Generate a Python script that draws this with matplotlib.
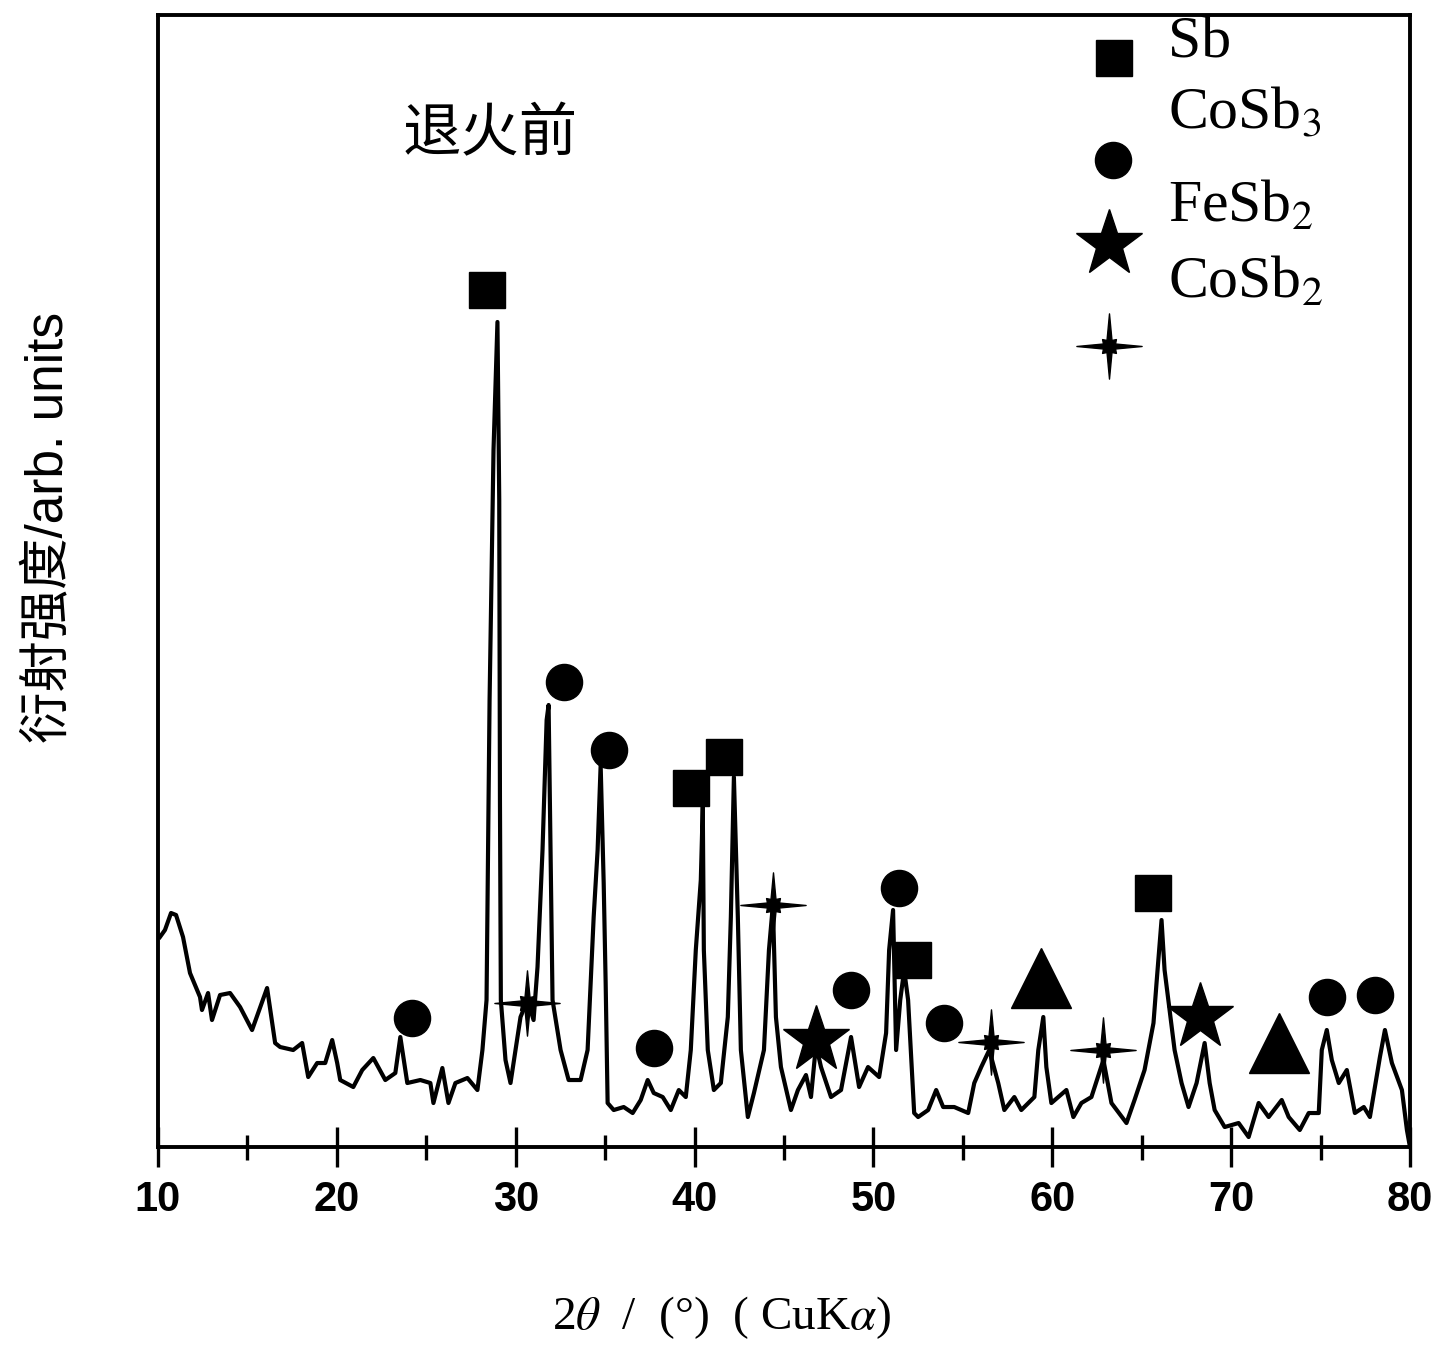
import numpy as np
import matplotlib
matplotlib.use("Agg")
import matplotlib.pyplot as plt
from matplotlib.path import Path
from matplotlib.ticker import MultipleLocator

plt.rcParams['mathtext.fontset'] = 'stix'

# XRD pattern before annealing: 2theta (deg) and intensity (arb. units)
two_theta = [10.11, 10.39, 10.73, 11.01, 11.40, 11.79, 12.35, 12.46, 12.80, 13.02,
             13.47, 14.03, 14.59, 15.26, 16.10, 16.55, 16.83, 17.56, 18.06, 18.40,
             18.90, 19.35, 19.74, 20.02, 20.19, 20.92, 21.42, 22.04, 22.71, 23.27,
             23.55, 23.94, 24.67, 25.23, 25.40, 25.90, 26.24, 26.63, 27.30, 27.86,
             28.14, 28.37, 28.54, 28.76, 28.98, 29.08, 29.12, 29.17, 29.43, 29.71,
             30.27, 30.66, 31.00, 31.22, 31.50, 31.73, 31.84, 31.95, 32.06, 32.51,
             32.96, 33.63, 34.02, 34.36, 34.58, 34.75, 34.92, 35.03, 35.14, 35.48,
             36.04, 36.54, 36.99, 37.38, 37.72, 38.22, 38.67, 39.12, 39.51, 39.79,
             40.07, 40.35, 40.46, 40.52, 40.74, 41.08, 41.47, 41.86, 42.03, 42.20,
             42.42, 42.59, 42.98, 43.32, 43.88, 44.16, 44.38, 44.55, 44.83, 45.39,
             45.78, 46.23, 46.51, 46.79, 47.07, 47.63, 48.19, 48.75, 49.20, 49.70,
             50.32, 50.71, 50.88, 51.10, 51.27, 51.50, 51.72, 51.94, 52.28, 52.50,
             53.06, 53.51, 53.90, 54.52, 55.30, 55.64, 56.03, 56.48, 56.98, 57.32,
             57.88, 58.27, 58.66, 59.00, 59.22, 59.50, 59.67, 59.95, 60.34, 60.79,
             61.18, 61.63, 62.19, 62.86, 63.31, 64.15, 64.60, 65.16, 65.66, 65.83,
             66.11, 66.28, 66.56, 66.84, 67.23, 67.62, 68.07, 68.52, 68.80, 69.08,
             69.64, 70.42, 70.98, 71.54, 72.10, 72.83, 73.22, 73.84, 74.34, 74.90,
             75.07, 75.35, 75.63, 76.02, 76.47, 76.92, 77.42, 77.76, 78.32, 78.60,
             78.99, 79.55, 79.83, 80.00]
intensity = [210, 217, 234, 232, 210, 174, 150, 137, 154, 127,
             152, 154, 140, 117, 159, 104, 100, 97, 104, 70,
             84, 84, 107, 84, 67, 60, 77, 89, 67, 74,
             110, 64, 67, 64, 44, 79, 44, 64, 69, 57,
             97, 147, 447, 697, 825, 647, 347, 147, 87, 64,
             130, 147, 127, 180, 297, 427, 442, 297, 147, 97,
             67, 67, 97, 230, 297, 382, 264, 164, 44, 37,
             40, 34, 47, 67, 54, 50, 37, 57, 50, 97,
             197, 267, 340, 197, 97, 57, 64, 130, 230, 370,
             230, 97, 30, 54, 97, 197, 242, 130, 80, 37,
             57, 72, 50, 102, 80, 50, 57, 110, 60, 80,
             70, 114, 197, 237, 97, 147, 177, 147, 34, 30,
             37, 57, 40, 40, 34, 64, 80, 97, 64, 37,
             50, 37, 44, 50, 97, 130, 80, 44, 50, 57,
             30, 44, 50, 87, 44, 24, 47, 77, 124, 164,
             227, 177, 137, 97, 64, 40, 64, 104, 64, 37,
             20, 24, 10, 44, 30, 47, 30, 17, 34, 34,
             97, 117, 87, 64, 77, 34, 40, 30, 90, 117,
             84, 57, 17, 0]

# phase identification marks
sb_pos = [28.37, 39.79, 41.64, 52.22, 65.66]
sb_int = [857, 359, 390, 187, 254]
cosb3_pos = [24.22, 32.68, 35.20, 37.72, 48.75, 51.44, 53.96, 75.35, 78.04]
cosb3_int = [129, 465, 397, 99, 157, 259, 124, 150, 152]
fesb2_pos = [46.79, 68.24]
fesb2_int = [107, 130]
cosb2_pos = [30.66, 44.38, 56.59, 62.86]
cosb2_int = [144, 242, 105, 97]
other_pos = [59.39, 72.66]
other_int = [169, 104]

phase_labels = ['Sb', r'CoSb$_3$', r'FeSb$_2$', r'CoSb$_2$']

# four-pointed star with tapering arms
ang = np.deg2rad(90 + 22.5 * np.arange(16))
rad = np.tile([1.0, 0.2, 0.3, 0.2], 4)
verts = np.column_stack([rad * np.cos(ang), rad * np.sin(ang)])
cross = Path(np.vstack([verts, verts[:1]]), closed=True)

fig = plt.figure(figsize=(14.31, 13.6), dpi=100)
ax = fig.add_axes([0.1104, 0.1566, 0.8749, 0.8324])

ax.plot(two_theta, intensity, color='black', lw=3.0, zorder=2)

mk = dict(color='black', ls='none', zorder=3, clip_on=False)
ax.plot(sb_pos, sb_int, marker='s', ms=26, **mk)
ax.plot(cosb3_pos, cosb3_int, marker='o', ms=26, **mk)
ax.plot(fesb2_pos, fesb2_int, marker='*', ms=50, **mk)
ax.plot(cosb2_pos, cosb2_int, marker=cross, ms=47, **mk)
ax.plot(other_pos, other_int, marker='^', ms=43, **mk)

# legend entries
leg_mk_x = [0.764, 0.763, 0.760, 0.760]
leg_mk_y = [0.962, 0.872, 0.798, 0.708]
leg_markers = ['s', 'o', '*', cross]
leg_sizes = [26, 26, 50, 47]
leg_txt_y = [0.962, 0.900, 0.817, 0.750]
for x, y, m, s in zip(leg_mk_x, leg_mk_y, leg_markers, leg_sizes):
    ax.plot([x], [y], marker=m, ms=s, color='black', ls='none',
            transform=ax.transAxes, clip_on=False)
for y, t in zip(leg_txt_y, phase_labels):
    ax.text(0.807, y, t, transform=ax.transAxes, fontsize=43,
            family='Liberation Serif', va='baseline', ha='left')

ax.text(0.265, 0.894, '退火前', transform=ax.transAxes, fontsize=42,
        family=['Noto Sans CJK SC'], ha='center', va='center')

ax.set_xlim(10, 80)
ax.set_ylim(0, 1132)
ax.set_yticks([])
ax.xaxis.set_major_locator(MultipleLocator(10))
ax.xaxis.set_minor_locator(MultipleLocator(5))
ax.tick_params(axis='x', which='major', direction='inout', length=29, width=2.4,
               pad=9, labelsize=30)
ax.tick_params(axis='x', which='minor', direction='inout', length=18, width=2.4)
for lab in ax.get_xticklabels():
    lab.set_fontweight('bold')
    lab.set_family(['Liberation Sans Narrow', 'Liberation Sans'])
for sp in ax.spines.values():
    sp.set_linewidth(2.8)

fig.text(0.035, 0.612, '衍射强度/arb. units', rotation=90, fontsize=37,
         family=['Liberation Sans', 'Noto Sans CJK SC'], ha='center', va='center')
fig.text(0.5045, 0.031, r'2$\theta$  /  (°)  ( CuK$\alpha$)', fontsize=34,
         family='Liberation Serif', ha='center', va='center')

fig.savefig('out.png', dpi=100)
